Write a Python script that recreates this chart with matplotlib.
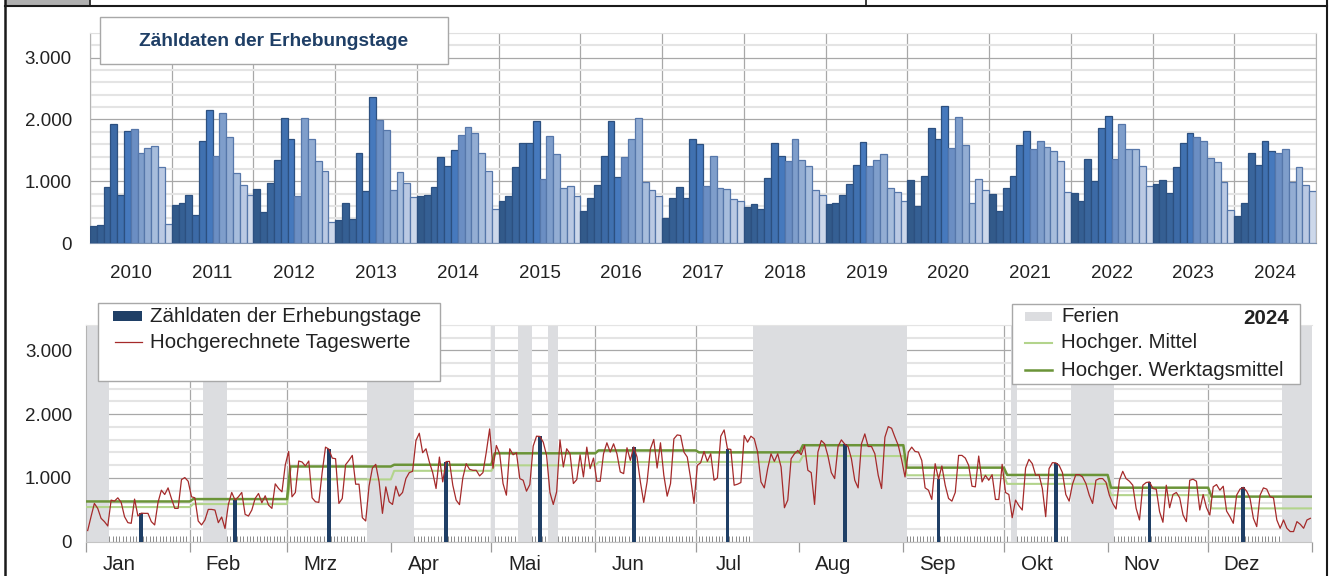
import numpy as np
import pandas as pd
import matplotlib
matplotlib.use("Agg")
import matplotlib.pyplot as plt
from matplotlib.patches import Rectangle
from matplotlib.lines import Line2D
from matplotlib.ticker import FuncFormatter, MultipleLocator

plt.rcParams['font.family'] = ['Liberation Sans', 'DejaVu Sans']

# ---------------- data: monthly counts on survey days 2010-2024 ----------------
years = [2010, 2011, 2012, 2013, 2014, 2015, 2016, 2017, 2018, 2019, 2020, 2021, 2022, 2023, 2024]
c2010 = [281, 297, 908, 1930, 784, 1811, 1843, 1465, 1535, 1568, 1232, 308]
c2011 = [611, 649, 784, 454, 1659, 2157, 1405, 2108, 1724, 1135, 946, 773]
c2012 = [881, 508, 978, 1340, 2022, 1676, 762, 2016, 1676, 1330, 1168, 341]
c2013 = [378, 654, 395, 1465, 849, 2362, 1995, 1832, 859, 1146, 978, 746]
c2014 = [762, 773, 903, 1395, 1254, 1508, 1746, 1881, 1784, 1465, 1168, 546]
c2015 = [681, 762, 1232, 1611, 1627, 1978, 1038, 1730, 1438, 892, 919, 757]
c2016 = [524, 724, 941, 1416, 1968, 1065, 1395, 1676, 2022, 984, 854, 757]
c2017 = [411, 730, 908, 730, 1681, 1600, 930, 1416, 886, 876, 708, 676]
c2018 = [578, 632, 551, 1049, 1627, 1411, 1330, 1676, 1351, 1254, 854, 773]
c2019 = [638, 654, 778, 957, 1270, 1643, 1249, 1340, 1449, 892, 822, 681]
c2020 = [1027, 605, 1081, 1870, 1686, 2222, 1541, 2032, 1584, 643, 1038, 854]
c2021 = [800, 519, 886, 1081, 1589, 1811, 1519, 1649, 1562, 1486, 1324, 827]
c2022 = [805, 681, 1362, 1000, 1870, 2054, 1362, 1930, 1519, 1519, 1254, 919]
c2023 = [962, 1027, 811, 1238, 1622, 1789, 1719, 1654, 1373, 1314, 984, 535]
c2024 = [445, 650, 1450, 1255, 1650, 1485, 1455, 1530, 980, 1235, 935, 850]

# ---------------- data: 2024 daily projected values ----------------
monate = ['Jan', 'Feb', 'Mrz', 'Apr', 'Mai', 'Jun', 'Jul', 'Aug', 'Sep', 'Okt', 'Nov', 'Dez']
jan = [172, 390, 598, 520, 364, 312, 244, 650, 634, 686, 614, 390, 296, 286, 666, 400, 445, 442, 442, 312,
       260, 614, 806, 738, 842, 676, 520, 520, 972, 1004, 946]
feb = [702, 686, 322, 260, 338, 504, 504, 494, 296, 385, 203, 582, 770, 650, 702, 770, 426, 400, 494, 676,
       754, 608, 718, 572, 520, 905, 832, 780, 1206]
mrz = [1414, 702, 770, 1264, 1248, 1186, 1264, 686, 624, 614, 1082, 1482, 1450, 1310, 1300, 598, 676, 1206,
       1274, 1352, 900, 900, 374, 322, 870, 1154, 1212, 936, 442, 858, 624]
apr = [582, 868, 712, 770, 988, 1082, 1102, 1586, 1700, 1394, 1456, 1248, 1082, 832, 1326, 936, 1255, 1258,
       884, 650, 579, 1000, 1222, 1134, 1118, 1118, 1030, 1082, 1404, 1768]
mai = [1150, 1508, 1378, 910, 728, 1456, 1362, 1394, 988, 962, 790, 894, 1498, 1654, 1650, 1560, 1352, 770,
       582, 780, 1596, 1170, 1456, 1378, 910, 972, 1362, 1014, 1482, 1144, 1310]
jun = [946, 946, 1378, 1550, 1404, 1534, 1378, 1092, 1066, 1472, 1274, 1485, 1326, 936, 614, 936, 1456, 1602,
       1154, 1550, 1040, 712, 910, 1612, 1674, 1664, 1404, 1326, 988, 598]
jul = [1196, 1238, 1414, 1258, 1378, 962, 998, 1654, 1752, 1455, 1446, 884, 900, 926, 1664, 1560, 1654, 1612,
       1404, 936, 842, 1144, 1378, 1258, 1378, 1170, 530, 650, 1300, 1378, 1430]
aug = [1362, 1508, 1118, 1082, 582, 1404, 1586, 1534, 1342, 1082, 988, 1492, 1596, 1530, 1492, 1300, 962, 842,
       1534, 1690, 1492, 1492, 1378, 1040, 832, 1638, 1804, 1778, 1638, 1508, 1280]
sep = [1014, 1404, 1482, 1414, 1404, 1274, 842, 806, 660, 1222, 980, 1186, 884, 676, 634, 770, 1352, 1352,
       1310, 1196, 868, 858, 1342, 936, 1040, 962, 1050, 660, 660, 1212]
okt = [770, 738, 374, 650, 562, 494, 1154, 1290, 1222, 1040, 1050, 832, 390, 1144, 1238, 1235, 1196, 1082,
       738, 634, 900, 1050, 1050, 1014, 910, 728, 598, 962, 988, 988, 930]
nov = [728, 598, 510, 962, 1102, 988, 946, 884, 520, 338, 884, 926, 935, 832, 822, 468, 302, 884, 530, 738,
       770, 686, 416, 312, 962, 978, 946, 494, 738, 530]
dez = [416, 858, 894, 806, 868, 478, 390, 286, 728, 822, 850, 790, 676, 364, 234, 728, 842, 822, 702, 686,
       338, 208, 338, 208, 156, 156, 312, 270, 208, 338, 364]

# monthly means (all days / working days)
mittel = [541, 588, 975, 1110, 1196, 1248, 1250, 1342, 1040, 905, 728, 520]
werktagsmittel = [629, 666, 1178, 1205, 1385, 1430, 1400, 1512, 1160, 1045, 845, 705]

erhebungstage = ['2024-01-17', '2024-02-14', '2024-03-13', '2024-04-17', '2024-05-15', '2024-06-12',
                 '2024-07-10', '2024-08-14', '2024-09-11', '2024-10-16', '2024-11-13', '2024-12-11']
ferien = [('2024-01-01', '2024-01-07'), ('2024-02-05', '2024-02-11'), ('2024-03-25', '2024-04-07'),
          ('2024-05-01', '2024-05-01'), ('2024-05-09', '2024-05-12'), ('2024-05-18', '2024-05-20'),
          ('2024-07-18', '2024-09-01'), ('2024-10-03', '2024-10-04'), ('2024-10-21', '2024-11-02'),
          ('2024-12-23', '2024-12-31')]

# ---------------- styles ----------------
bar_colors = ['#325a8a', '#355f93', '#39659c', '#3c6aa6', '#4071b0', '#4679bd',
              '#6b8ec3', '#7f9ecb', '#93add3', '#a7bddc', '#bac9e3', '#cdd8ea']
bar_edges = ['#2c5080'] * 6 + ['#5677aa'] * 6
navy = '#1f3f66'
red = '#a52a2a'
lightgreen = '#b3d48c'
darkgreen = '#6b9438'
ferien_grey = '#dcdde0'
txt = '#222222'
grid_major = '#a8a8a8'
grid_minor = '#e4e4e4'

W, H = 1330, 576
fig = plt.figure(figsize=(W / 100, H / 100), dpi=100)


def box(l, t, r, b):
    return [l / W, 1 - b / H, (r - l) / W, (b - t) / H]


def px(x, y):
    return x / W, 1 - y / H


thousands = FuncFormatter(lambda v, p: f"{int(v):,}".replace(",", "."))

# ================= top chart =================
ax1 = fig.add_axes(box(90, 33, 1316, 243))
vals = np.concatenate([c2010, c2011, c2012, c2013, c2014, c2015, c2016, c2017,
                       c2018, c2019, c2020, c2021, c2022, c2023, c2024])
n = len(vals)
ax1.bar(np.arange(n) + 0.5, vals, width=1.0, color=bar_colors * len(years),
        edgecolor=bar_edges * len(years), linewidth=0.9, zorder=3)
ax1.set_xlim(0, n)
ax1.set_ylim(0, 3400)
ax1.set_axisbelow(True)
ax1.yaxis.set_major_locator(MultipleLocator(1000))
ax1.yaxis.set_minor_locator(MultipleLocator(200))
ax1.yaxis.set_major_formatter(thousands)
ax1.grid(which='minor', axis='y', color=grid_minor, lw=1.5)
ax1.grid(which='major', axis='y', color=grid_major, lw=0.9)
ax1.set_xticks(np.arange(0, n + 1, 12))
ax1.set_xticklabels([])
ax1.grid(which='major', axis='x', color=grid_major, lw=0.9)
ax1.tick_params(axis='both', which='both', length=0)
ax1.tick_params(axis='y', pad=13, labelsize=13.5, labelcolor=txt)
for i, yr in enumerate(years):
    ax1.text(12 * i + 6, -0.165, str(yr), transform=ax1.get_xaxis_transform(),
             ha='center', va='baseline', fontsize=13.5, color=txt)
for s in ['left', 'right']:
    ax1.spines[s].set_color('#b4b4b4')
ax1.spines['top'].set_color('#e0e0e0')
ax1.spines['bottom'].set_color('#7f93b0')

# title box
fig.add_artist(Rectangle(px(100, 64), 348 / W, 47 / H, transform=fig.transFigure,
                         facecolor='white', edgecolor='#a8a8a8', lw=1, zorder=10))
fig.text(*px(274, 42), 'Zähldaten der Erhebungstage', ha='center', va='center',
         fontsize=13.8, fontweight='bold', color=navy, zorder=11)

# ================= bottom chart =================
ax2 = fig.add_axes(box(86, 325, 1312, 541.5))
days = pd.date_range('2024-01-01', '2024-12-31', freq='D')
tage = np.concatenate([jan, feb, mrz, apr, mai, jun, jul, aug, sep, okt, nov, dez])
nd = len(days)
xd = np.arange(nd) + 0.5
bounds = np.append(np.flatnonzero(days.day == 1), nd)

ax2.set_xlim(0, nd)
ax2.set_ylim(0, 3400)
ax2.set_axisbelow(True)
ax2.yaxis.set_major_locator(MultipleLocator(1000))
ax2.yaxis.set_minor_locator(MultipleLocator(200))
ax2.yaxis.set_major_formatter(thousands)
ax2.grid(which='minor', axis='y', color=grid_minor, lw=1.5)
ax2.grid(which='major', axis='y', color=grid_major, lw=0.9)
ax2.set_xticks(bounds)
ax2.set_xticklabels([])
ax2.set_xticks(np.arange(nd + 1), minor=True)
ax2.grid(which='major', axis='x', color=grid_major, lw=0.9)
ax2.tick_params(axis='y', which='both', length=0, pad=10, labelsize=13.5, labelcolor=txt)
ax2.tick_params(axis='x', which='major', direction='out', length=7, width=0.9, color='#9a9a9a')
ax2.tick_params(axis='x', which='minor', direction='in', length=4, width=0.7, color='#8a8a8a')

# holidays
for a, b in ferien:
    s = days.get_loc(pd.Timestamp(a))
    e = days.get_loc(pd.Timestamp(b)) + 1
    ax2.axvspan(s, e, color=ferien_grey, lw=0, zorder=1)

# monthly mean step lines
def steps(means):
    xs, ys = [], []
    for i, m in enumerate(means):
        xs += [bounds[i] + (1 if i else 0), bounds[i + 1]]
        ys += [m, m]
    return xs, ys

ax2.plot(*steps(mittel), color=lightgreen, lw=1.5, zorder=3)
ax2.plot(*steps(werktagsmittel), color=darkgreen, lw=1.8, zorder=3)

# survey day counts
idx = [days.get_loc(pd.Timestamp(d)) for d in erhebungstage]
ax2.bar(np.array(idx) + 0.5, c2024, width=1.1, color=navy, zorder=4)

# daily values
ax2.plot(xd, tage, color=red, lw=0.9, zorder=5)

# month names sit about ten days into each month
for i, m in enumerate(monate):
    ax2.text(bounds[i] + 10, -0.133, m, transform=ax2.get_xaxis_transform(),
             ha='center', va='baseline', fontsize=14.8, color=txt)
ax2.spines['left'].set_color('#b4b4b4')
ax2.spines['bottom'].set_color('#c4c4c4')
ax2.spines['top'].set_color('#e4e4e4')
ax2.spines['right'].set_visible(False)

# legend left (manual box)
fig.add_artist(Rectangle(px(97.5, 381), 342.5 / W, 78 / H, transform=fig.transFigure,
                         facecolor='white', edgecolor='#a8a8a8', lw=1, zorder=10))
fig.add_artist(Rectangle(px(113, 321), 29 / W, 10 / H, transform=fig.transFigure,
                         facecolor=navy, edgecolor='none', zorder=11))
fig.text(*px(150, 316), 'Zähldaten der Erhebungstage', va='center', fontsize=14.8, color=txt, zorder=11)
fig.add_artist(Line2D([115 / W, 142 / W], [1 - 342 / H] * 2, transform=fig.transFigure,
                      color=red, lw=0.9, zorder=11))
fig.text(*px(150, 342), 'Hochgerechnete Tageswerte', va='center', fontsize=14.8, color=txt, zorder=11)

# legend right (manual box)
fig.add_artist(Rectangle(px(1012, 384), 288 / W, 80 / H, transform=fig.transFigure,
                         facecolor='white', edgecolor='#a8a8a8', lw=1, zorder=10))
fig.add_artist(Rectangle(px(1025, 321), 27 / W, 9 / H, transform=fig.transFigure,
                         facecolor=ferien_grey, edgecolor='none', zorder=11))
fig.text(*px(1061, 317), 'Ferien', va='center', fontsize=14.8, color=txt, zorder=11)
fig.text(*px(1289, 318), '2024', ha='right', va='center', fontsize=14.8, fontweight='bold',
         color=txt, zorder=11)
fig.add_artist(Line2D([1025 / W, 1052 / W], [1 - 343 / H] * 2, transform=fig.transFigure,
                      color=lightgreen, lw=1.5, zorder=11))
fig.text(*px(1061, 343), 'Hochger. Mittel', va='center', fontsize=14.8, color=txt, zorder=11)
fig.add_artist(Line2D([1025 / W, 1052 / W], [1 - 370 / H] * 2, transform=fig.transFigure,
                      color=darkgreen, lw=1.8, zorder=11))
fig.text(*px(1061, 370), 'Hochger. Werktagsmittel', va='center', fontsize=14.8, color=txt, zorder=11)

# frame remnants around the figure
fig.add_artist(Rectangle(px(6, 5), 84 / W, 5 / H, transform=fig.transFigure,
                         facecolor='#b0b0b0', edgecolor='none', zorder=12))
for xs, ys, lw in [([5.3, 5.3], [0, 576], 1.8), ([1327, 1327], [0, 576], 1.5),
                   ([5, 1327], [5.8, 5.8], 1.5), ([90, 90], [0, 6], 1.2), ([866, 866], [0, 6], 1.2)]:
    fig.add_artist(Line2D([x / W for x in xs], [1 - y / H for y in ys], transform=fig.transFigure,
                          color='#1a1a1a', lw=lw, zorder=12))

fig.savefig('out.png', dpi=100)
